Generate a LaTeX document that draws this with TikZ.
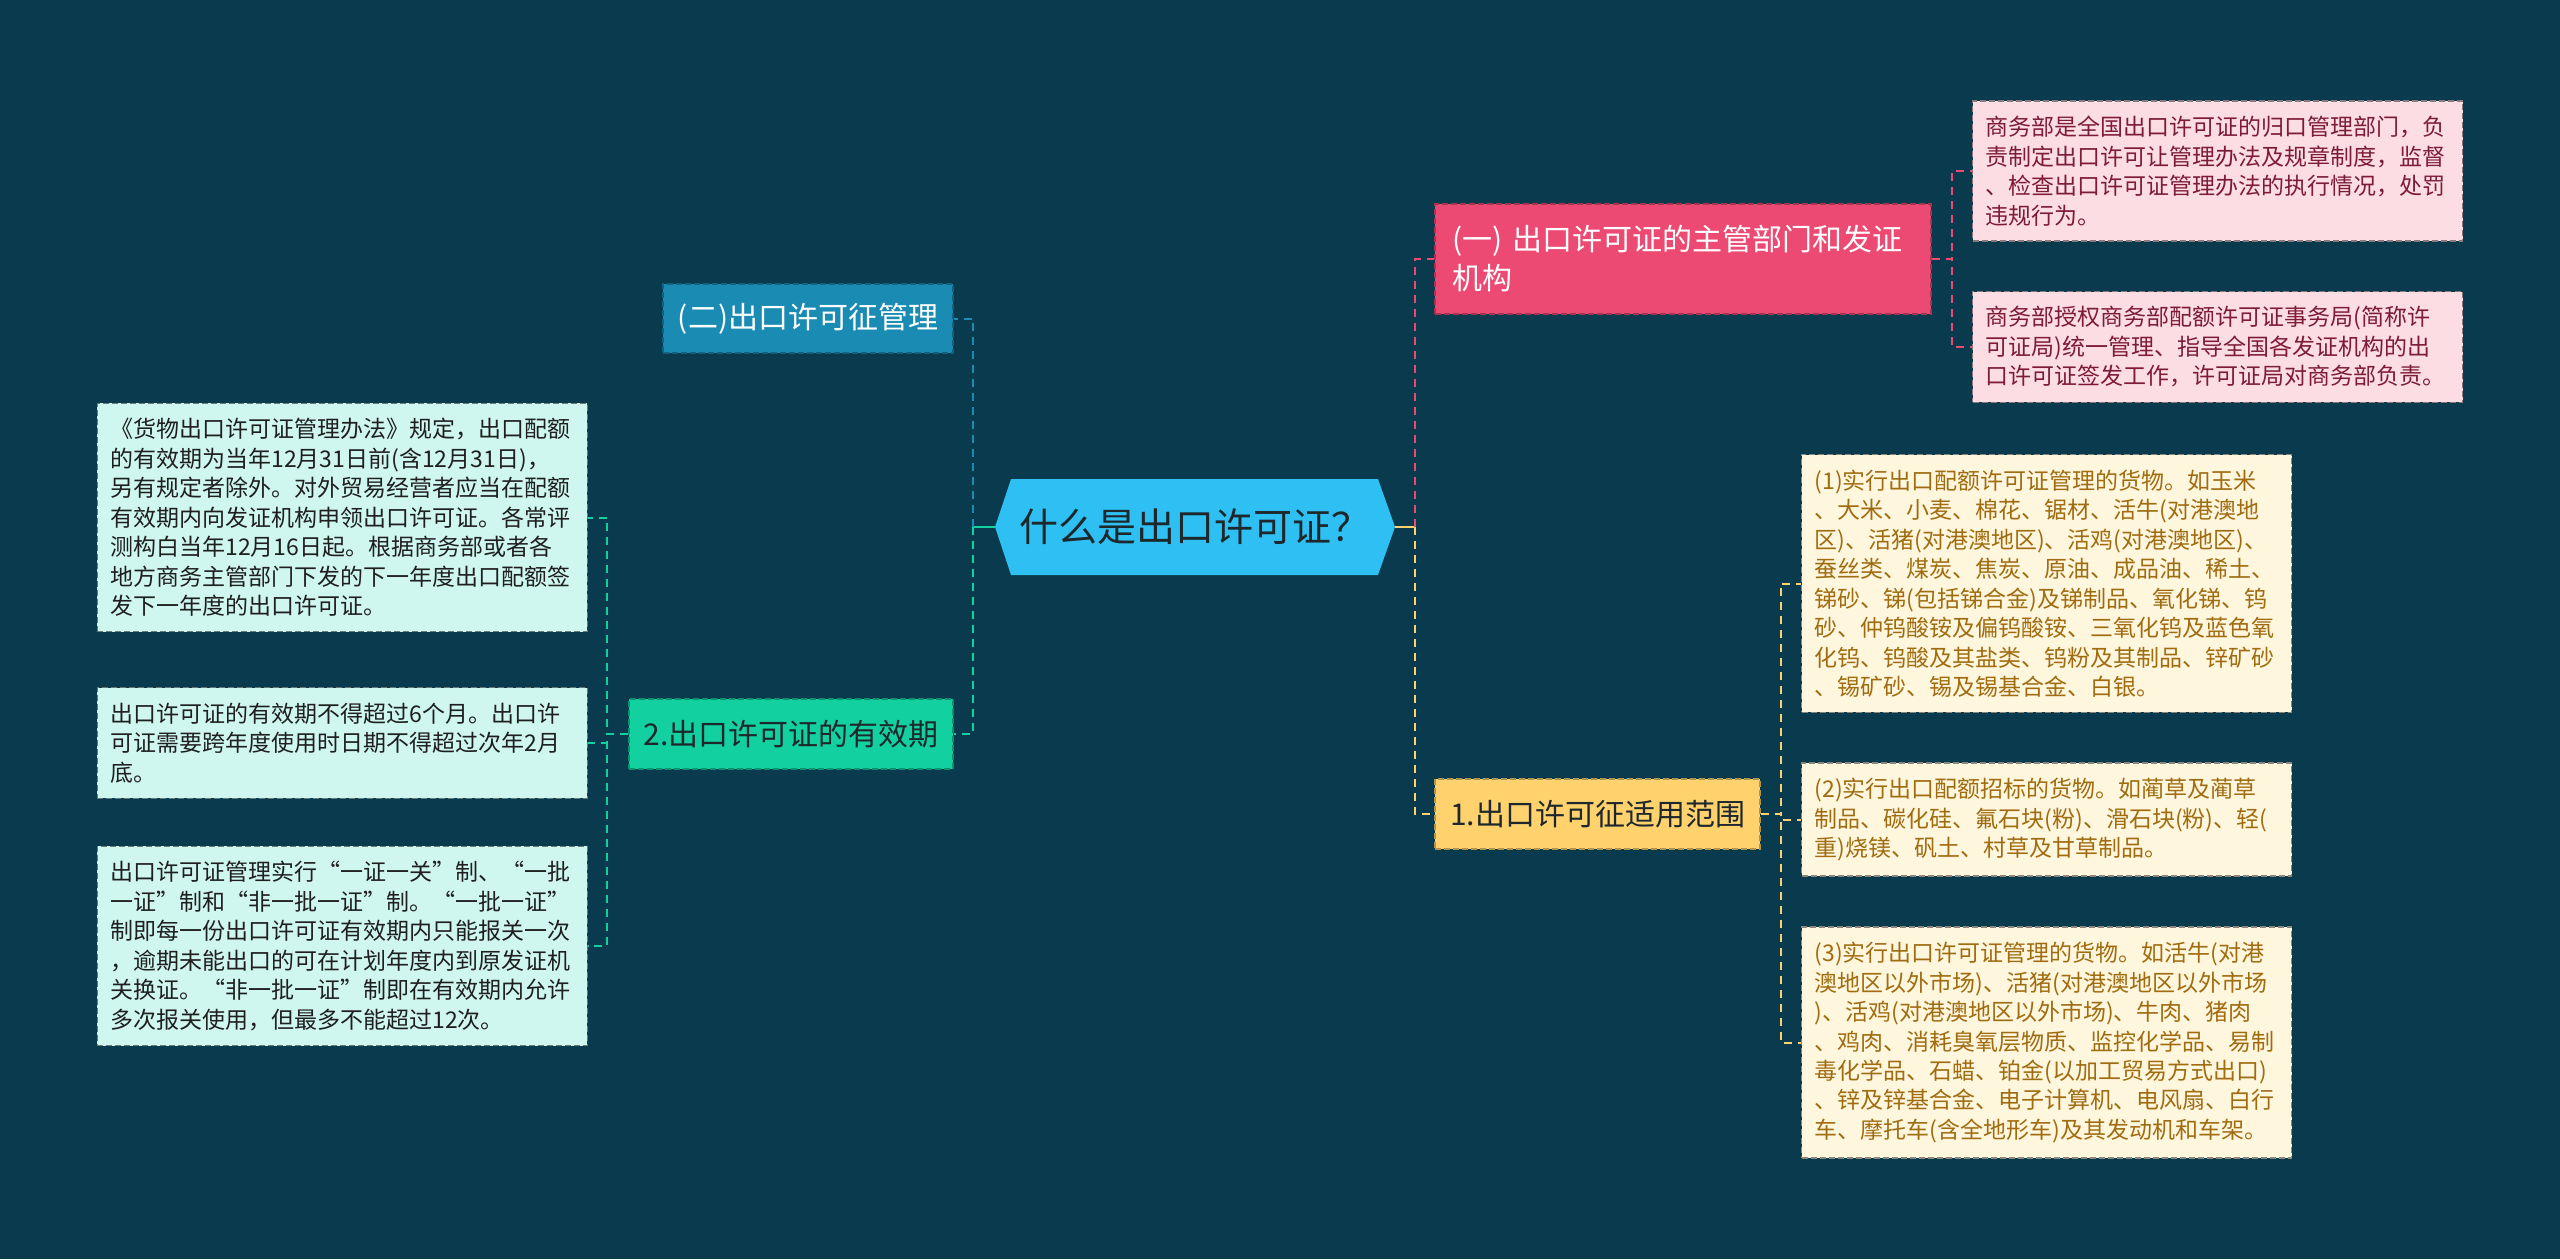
\documentclass[tikz,border=0pt]{standalone}
\usepackage{fontspec}
\setmainfont{Noto Sans CJK SC}

\definecolor{bgteal}{RGB}{9,58,77}
\definecolor{rootblue}{RGB}{46,192,242}
\definecolor{mgmtblue}{RGB}{26,139,178}
\definecolor{validgreen}{RGB}{18,208,160}
\definecolor{authpink}{RGB}{236,74,114}
\definecolor{rangeyellow}{RGB}{255,210,110}
\definecolor{pinkleaf}{RGB}{252,221,228}
\definecolor{yellowleaf}{RGB}{255,246,222}
\definecolor{mintleaf}{RGB}{207,246,239}
\definecolor{pinktext}{RGB}{125,27,56}
\definecolor{yellowtext}{RGB}{160,108,16}
\definecolor{darktext}{RGB}{30,40,44}

\begin{document}
\begin{tikzpicture}[
  x=0.5pt, y=-0.5pt,
  branch/.style={
    dash pattern=on 3pt off 1.5pt, line width=0.6pt,
    minimum height=35pt, inner sep=0pt, font=\fontsize{15}{19.5}\selectfont
  },
  leaf/.style={
    dash pattern=on 3pt off 1.5pt, line width=0.6pt,
    text width=232pt, inner xsep=6.5pt, inner ysep=7.5pt, align=left,
    font=\fontsize{11.5}{14.75}\selectfont
  },
  pleaf/.style={leaf, fill=pinkleaf, draw=pinkleaf!55!black, text=pinktext},
  yleaf/.style={leaf, fill=yellowleaf, draw=yellowleaf!55!black, text=yellowtext},
  mleaf/.style={leaf, fill=mintleaf, draw=mintleaf!50!black, text=black!88},
  link/.style={line width=1pt, dash pattern=on 4pt off 3pt},
  stub/.style={line width=1.2pt}
]

\path[use as bounding box, fill=bgteal] (0,0) rectangle (2560,1259);

\fill[rootblue] (995,527) -- (1011,479) -- (1378,479) -- (1395,527)
  -- (1378,575) -- (1011,575) -- cycle;
\node[minimum width=200pt, minimum height=48pt, inner sep=0pt,
  font=\fontsize{19.5}{24}\selectfont, text=darktext] (root) at (1195,527) {什么是出口许可证？};

\node[branch, fill=mgmtblue, draw=mgmtblue!70!black, text=white,
  minimum width=145pt, minimum height=34.5pt] (mgmt) at (808,318.5) {(二)出口许可征管理};
\node[branch, fill=validgreen, draw=validgreen!70!black, text=darktext,
  minimum width=162pt] (valid) at (791,734) {2.出口许可证的有效期};
\node[branch, fill=authpink, draw=authpink!70!black, text=white, align=left,
  text width=231pt, inner xsep=8.5pt, minimum height=55pt] (auth) at (1683,259)
  {(一) 出口许可证的主管部门和发证\\机构};
\node[branch, fill=rangeyellow, draw=rangeyellow!70!black, text=darktext,
  minimum width=162.5pt] (range) at (1597.5,814) {1.出口许可征适用范围};

\node[pleaf, anchor=west] (auth1) at (1972,171)
  {商务部是全国出口许可证的归口管理部门，负\\
   责制定出口许可让管理办法及规章制度，监督\\
   、检查出口许可证管理办法的执行情况，处罚\\
   违规行为。};
\node[pleaf, anchor=west] (auth2) at (1972,347)
  {商务部授权商务部配额许可证事务局(简称许\\
   可证局)统一管理、指导全国各发证机构的出\\
   口许可证签发工作，许可证局对商务部负责。};

\node[yleaf, anchor=west] (range1) at (1801,583.5)
  {(1)实行出口配额许可证管理的货物。如玉米\\
   、大米、小麦、棉花、锯材、活牛(对港澳地\\
   区)、活猪(对港澳地区)、活鸡(对港澳地区)、\\
   蚕丝类、煤炭、焦炭、原油、成品油、稀土、\\
   锑砂、锑(包括锑合金)及锑制品、氧化锑、钨\\
   砂、仲钨酸铵及偏钨酸铵、三氧化钨及蓝色氧\\
   化钨、钨酸及其盐类、钨粉及其制品、锌矿砂\\
   、锡矿砂、锡及锡基合金、白银。};
\node[yleaf, anchor=west] (range2) at (1801,819.5)
  {(2)实行出口配额招标的货物。如蔺草及蔺草\\
   制品、碳化硅、氟石块(粉)、滑石块(粉)、轻(\\
   重)烧镁、矾土、村草及甘草制品。};
\node[yleaf, anchor=west] (range3) at (1801,1042.5)
  {(3)实行出口许可证管理的货物。如活牛(对港\\
   澳地区以外市场)、活猪(对港澳地区以外市场\\
   )、活鸡(对港澳地区以外市场)、牛肉、猪肉\\
   、鸡肉、消耗臭氧层物质、监控化学品、易制\\
   毒化学品、石蜡、铂金(以加工贸易方式出口)\\
   、锌及锌基合金、电子计算机、电风扇、白行\\
   车、摩托车(含全地形车)及其发动机和车架。};

\node[mleaf, anchor=east] (valid1) at (588,517.5)
  {《货物出口许可证管理办法》规定，出口配额\\
   的有效期为当年12月31日前(含12月31日)，\\
   另有规定者除外。对外贸易经营者应当在配额\\
   有效期内向发证机构申领出口许可证。各常评\\
   测构白当年12月16日起。根据商务部或者各\\
   地方商务主管部门下发的下一年度出口配额签\\
   发下一年度的出口许可证。};
\node[mleaf, anchor=east] (valid2) at (588,743)
  {出口许可证的有效期不得超过6个月。出口许\\
   可证需要跨年度使用时日期不得超过次年2月\\
   底。};
\node[mleaf, anchor=east] (valid3) at (588,946)
  {出口许可证管理实行“一证一关”制、“一批\\
   一证”制和“非一批一证”制。“一批一证”\\
   制即每一份出口许可证有效期内只能报关一次\\
   ，逾期未能出口的可在计划年度内到原发证机\\
   关换证。“非一批一证”制即在有效期内允许\\
   多次报关使用，但最多不能超过12次。};

\coordinate (lj) at (973,527);
\coordinate (rj) at (1415,527);

\draw[stub, validgreen] (root.west) -- (lj);
\draw[stub, rangeyellow] (root.east) -- (rj);
\draw[link, mgmtblue] (lj) |- (mgmt.east);
\draw[link, validgreen] (lj) |- (valid.east);
\draw[link, authpink] (rj) |- (auth.west);
\draw[link, rangeyellow] (rj) |- (range.west);

\foreach \leaf in {auth1, auth2}
  \draw[link, authpink] (auth.east) -- ++(20,0) |- (\leaf.west);
\foreach \leaf in {range1, range2, range3}
  \draw[link, rangeyellow] (range.east) -- ++(20,0) |- (\leaf.west);
\foreach \leaf in {valid1, valid2, valid3}
  \draw[link, validgreen] (valid.west) -- ++(-21,0) |- (\leaf.east);

\end{tikzpicture}
\end{document}
